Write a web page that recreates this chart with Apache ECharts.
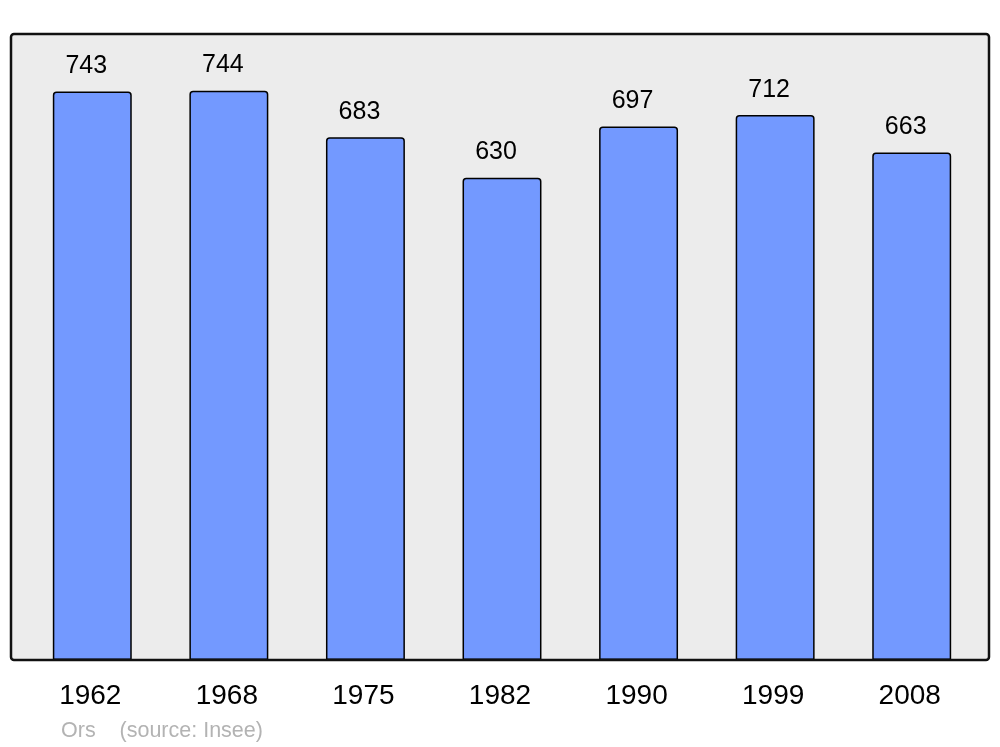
<!DOCTYPE html>
<html><head><meta charset="utf-8">
<script src="https://cdn.jsdelivr.net/npm/echarts@6/dist/echarts.min.js"></script>
<style>html,body{margin:0;padding:0;background:#fff}#c{width:1000px;height:747px}</style>
</head><body><div id="c"></div>
<script>
const years = ['1962','1968','1975','1982','1990','1999','2008'];
const population = [743, 744, 683, 630, 697, 712, 663];
const sourceLabel = 'Ors    (source: Insee)';

const chart = echarts.init(document.getElementById('c'), null, {renderer:'canvas'});
const font = '"Liberation Sans", Arial, sans-serif';
chart.setOption({
  animation: false,
  backgroundColor: '#ffffff',
  grid: {left: 24, right: 20, top: 34, bottom: 87, containLabel: false},
  xAxis: {
    type: 'category', data: years,
    axisLine: {show: false}, axisTick: {show: false},
    axisLabel: {fontSize: 28, color: '#000', fontFamily: font, margin: 22, padding: [0, 4, 0, 0]}
  },
  yAxis: {
    type: 'value', min: 0, max: 818,
    show: false, splitLine: {show: false}
  },
  graphic: [
    {type: 'rect', z: -10, shape: {x: 11, y: 34, width: 978, height: 626, r: 3},
     style: {fill: '#ececec', stroke: null}},
    {type: 'rect', z: 100, shape: {x: 11, y: 34, width: 978, height: 626, r: 3},
     style: {fill: null, stroke: '#111', lineWidth: 2.5}},
    {type: 'text', left: 61, top: 720, z: 100,
     style: {text: sourceLabel, fill: '#b3b3b3', font: '21.5px "Liberation Sans", Arial, sans-serif'}}
  ],
  series: [{
    type: 'bar', data: population, barWidth: '57.8%',
    itemStyle: {color: '#7399ff', borderColor: '#000', borderWidth: 1.5, borderRadius: [3,3,0,0]},
    label: {show: true, position: 'top', distance: 13, offset: [-6, 0],
      fontSize: 25, color: '#000', fontFamily: font}
  }]
});
</script></body></html>
